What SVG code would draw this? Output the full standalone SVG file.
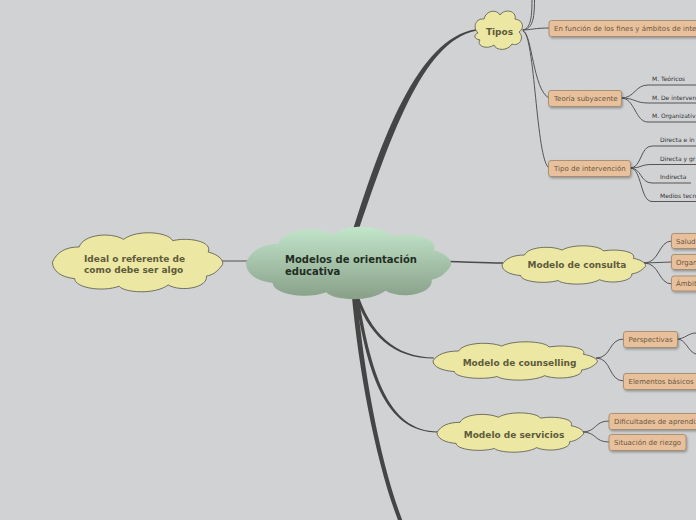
<svg xmlns="http://www.w3.org/2000/svg" xmlns:xlink="http://www.w3.org/1999/xlink" width="696" height="520" viewBox="0 0 696 520">
<style>
.bg{fill:#d1d2d4}
.trunk{fill:#454545}
.ln{fill:none;stroke:#555;stroke-width:1}
.cl{fill:#ece7a3;stroke:#565648;stroke-width:0.8}
.ct{font-family:"DejaVu Sans",Verdana,sans-serif;font-weight:bold;font-size:9px;fill:#5e5b3b}
.box{fill:#e8c19c;stroke:#9c8466;stroke-width:0.8;filter:url(#sh)}
.bt{font-family:"DejaVu Sans",Verdana,sans-serif;font-size:7px;fill:#6a5641}
.lt{font-family:"DejaVu Sans",Verdana,sans-serif;font-size:6px;fill:#333}
.mt{font-family:"DejaVu Sans",Verdana,sans-serif;font-weight:bold;font-size:10px;fill:#1f2e1f}
</style>
<defs>
<linearGradient id="g" x1="0" y1="0" x2="0" y2="1">
<stop offset="0" stop-color="#c2e6cb"/>
<stop offset="1" stop-color="#889f88"/>
</linearGradient>
<filter id="sh" x="-10%" y="-20%" width="130%" height="160%">
<feDropShadow dx="1" dy="1.5" stdDeviation="0.8" flood-color="#000" flood-opacity="0.3"/>
</filter>
<path id="cloud" vector-effect="non-scaling-stroke" d="M5,26 C10,18 20,14 35,14 C40,4 70,2 85,8 C100,0 135,2 140,9 C160,6 185,10 180,18 C192,20 198,25 196,28 C190,34 185,36 178,37 C180,46 150,50 135,44 C120,52 85,50 80,45 C60,50 30,46 30,39 C15,38 5,33 5,26 Z"/>
</defs>
<rect class="bg" x="0" y="0" width="696" height="520"/>

<g id="connectors">
<path class="trunk" d="M349.6,241.2 C381,139 418,38 476,29.3 L476,30.7 C422,41 389,141 354.4,242.8 Z"/>
<path class="trunk" d="M356.5,289.6 C370,334.5 396,357.5 434,357.5 L434,358.5 C394,358.5 367,335.5 353.5,290.4 Z"/>
<path class="trunk" d="M357.7,291.7 C370,370 387,431.5 438,431.5 L438,432.5 C383,432.5 367,370 354.3,292.3 Z"/>
<path class="trunk" d="M356.5,291.8 C364.5,380 382,470 403.9,524.3 L400.1,525.7 C378,470 359.5,380 351.5,292.2 Z"/>
<path d="M448,261.5 C470,262 482,263 503,263" fill="none" stroke="#4a4a4a" stroke-width="1.6"/>
<path d="M222,261 L250,261" fill="none" stroke="#666" stroke-width="1.2"/>

<path class="ln" d="M522,30 C530,30 535,28 549,28"/>
<path class="ln" d="M523,30 C530,28 532,20 532,0"/>
<path class="ln" d="M523,30 C532,29 534.5,20 534.5,0"/>
<path class="ln" d="M523,31 C532,33 533,90 549,98"/>
<path class="ln" d="M523,31 C535,34 536,160 549,168"/>

<path class="ln" d="M621,98 C635,98 635,85 648,85 L696,85"/>
<path class="ln" d="M621,98 C635,98 635,103 648,103 L696,103"/>
<path class="ln" d="M621,98 C635,98 635,122 648,122 L696,122"/>

<path class="ln" d="M630,168 C642,168 640,146 652,146 L696,146"/>
<path class="ln" d="M630,168 C642,168 640,164.5 652,164.5 L696,164.5"/>
<path class="ln" d="M630,168 C642,168 640,183 652,183 L691,183"/>
<path class="ln" d="M630,168 C642,168 640,201.5 652,201.5 L696,201.5"/>

<path class="ln" d="M644,263 C660,263 658,241 672,241"/>
<path class="ln" d="M644,263 L672,262"/>
<path class="ln" d="M644,263 C660,263 658,284 672,284"/>

<path class="ln" d="M596,358 C612,358 608,339 624,339"/>
<path class="ln" d="M596,358 C612,358 608,381 624,381"/>
<path class="ln" d="M677,339 C685,339 688,333 696,333"/>
<path class="ln" d="M677,339 C686,339 688,352 696,354"/>

<path class="ln" d="M582,432 C597,432 594,421 609,421"/>
<path class="ln" d="M582,432 C597,432 594,442 609,442"/>
</g>

<g id="center">
<use xlink:href="#cloud" href="#cloud" fill="url(#g)" stroke="none" transform="translate(240.6,222.3) scale(1.073,1.556)"/>
<text class="mt" x="285" y="263">Modelos de orientación</text>
<text class="mt" x="285" y="275">educativa</text>
</g>

<g id="ideal">
<use xlink:href="#cloud" href="#cloud" class="cl" transform="translate(48,229.2) scale(0.89,1.267)"/>
<text class="ct" x="84" y="262">Ideal o referente de</text>
<text class="ct" x="84" y="273">como debe ser algo</text>
</g>

<g id="tipos">
<path class="cl" d="M478,33 C472,27 476,18 484,19 C486,10 497,9 500,15 C505,8 517,11 515,19 C523,20 525,28 519,32 C525,38 519,47 512,44 C508,51 496,51 494,45 C487,50 476,46 480,40 C474,39 473,35 478,33 Z"/>
<text class="ct" x="499.5" y="35" text-anchor="middle">Tipos</text>
</g>

<g id="en-funcion">
<rect class="box" x="549" y="20.5" width="160" height="16" rx="2.5"/>
<text class="bt" x="554" y="31">En función de los fines y ámbitos de inte</text>
</g>

<g id="teoria">
<rect class="box" x="548.5" y="90.5" width="73" height="16" rx="2.5"/>
<text class="bt" x="554" y="101">Teoría subyacente</text>
</g>
<g id="m-teoricos"><text class="lt" x="652" y="81">M. Teóricos</text></g>
<g id="m-intervencion"><text class="lt" x="652" y="99.5">M. De interven</text></g>
<g id="m-organizativos"><text class="lt" x="652" y="118">M. Organizativ</text></g>

<g id="tipo-intervencion">
<rect class="box" x="548.5" y="160.5" width="82" height="16" rx="2.5"/>
<text class="bt" x="554" y="171">Tipo de intervención</text>
</g>
<g id="directa-ind"><text class="lt" x="660" y="142">Directa e in</text></g>
<g id="directa-gr"><text class="lt" x="660" y="160.5">Directa y gr</text></g>
<g id="indirecta"><text class="lt" x="660" y="179">Indirecta</text></g>
<g id="medios"><text class="lt" x="660" y="197.5">Medios tecn</text></g>

<g id="consulta">
<use xlink:href="#cloud" href="#cloud" class="cl" transform="translate(498.25,243.5) scale(0.75,0.822)"/>
<text class="ct" x="577" y="268" text-anchor="middle">Modelo de consulta</text>
</g>
<g id="salud">
<rect class="box" x="671.5" y="233.5" width="40" height="15" rx="2.5"/>
<text class="bt" x="676" y="243.5">Salud</text>
</g>
<g id="organ">
<rect class="box" x="671.5" y="254.5" width="40" height="15" rx="2.5"/>
<text class="bt" x="676" y="264.5">Organ</text>
</g>
<g id="ambit">
<rect class="box" x="671.5" y="276" width="40" height="15" rx="2.5"/>
<text class="bt" x="676" y="286">Ámbit</text>
</g>

<g id="counselling">
<use xlink:href="#cloud" href="#cloud" class="cl" transform="translate(428.7,339.5) scale(0.859,0.822)"/>
<text class="ct" x="519.5" y="366" text-anchor="middle">Modelo de counselling</text>
</g>
<g id="perspectivas">
<rect class="box" x="623.5" y="331.5" width="54" height="16" rx="2.5"/>
<text class="bt" x="628.5" y="342">Perspectivas</text>
</g>
<g id="elementos">
<rect class="box" x="623.5" y="373.5" width="80" height="16" rx="2.5"/>
<text class="bt" x="628.5" y="384">Elementos básicos</text>
</g>

<g id="servicios">
<use xlink:href="#cloud" href="#cloud" class="cl" transform="translate(433.2,410.5) scale(0.766,0.844)"/>
<text class="ct" x="514" y="437.5" text-anchor="middle">Modelo de servicios</text>
</g>
<g id="dificultades">
<rect class="box" x="609" y="413.5" width="100" height="16" rx="2.5"/>
<text class="bt" x="614" y="424">Dificultades de aprendiz</text>
</g>
<g id="situacion">
<rect class="box" x="609" y="434.5" width="77" height="16" rx="2.5"/>
<text class="bt" x="614" y="445">Situación de riezgo</text>
</g>
</svg>
